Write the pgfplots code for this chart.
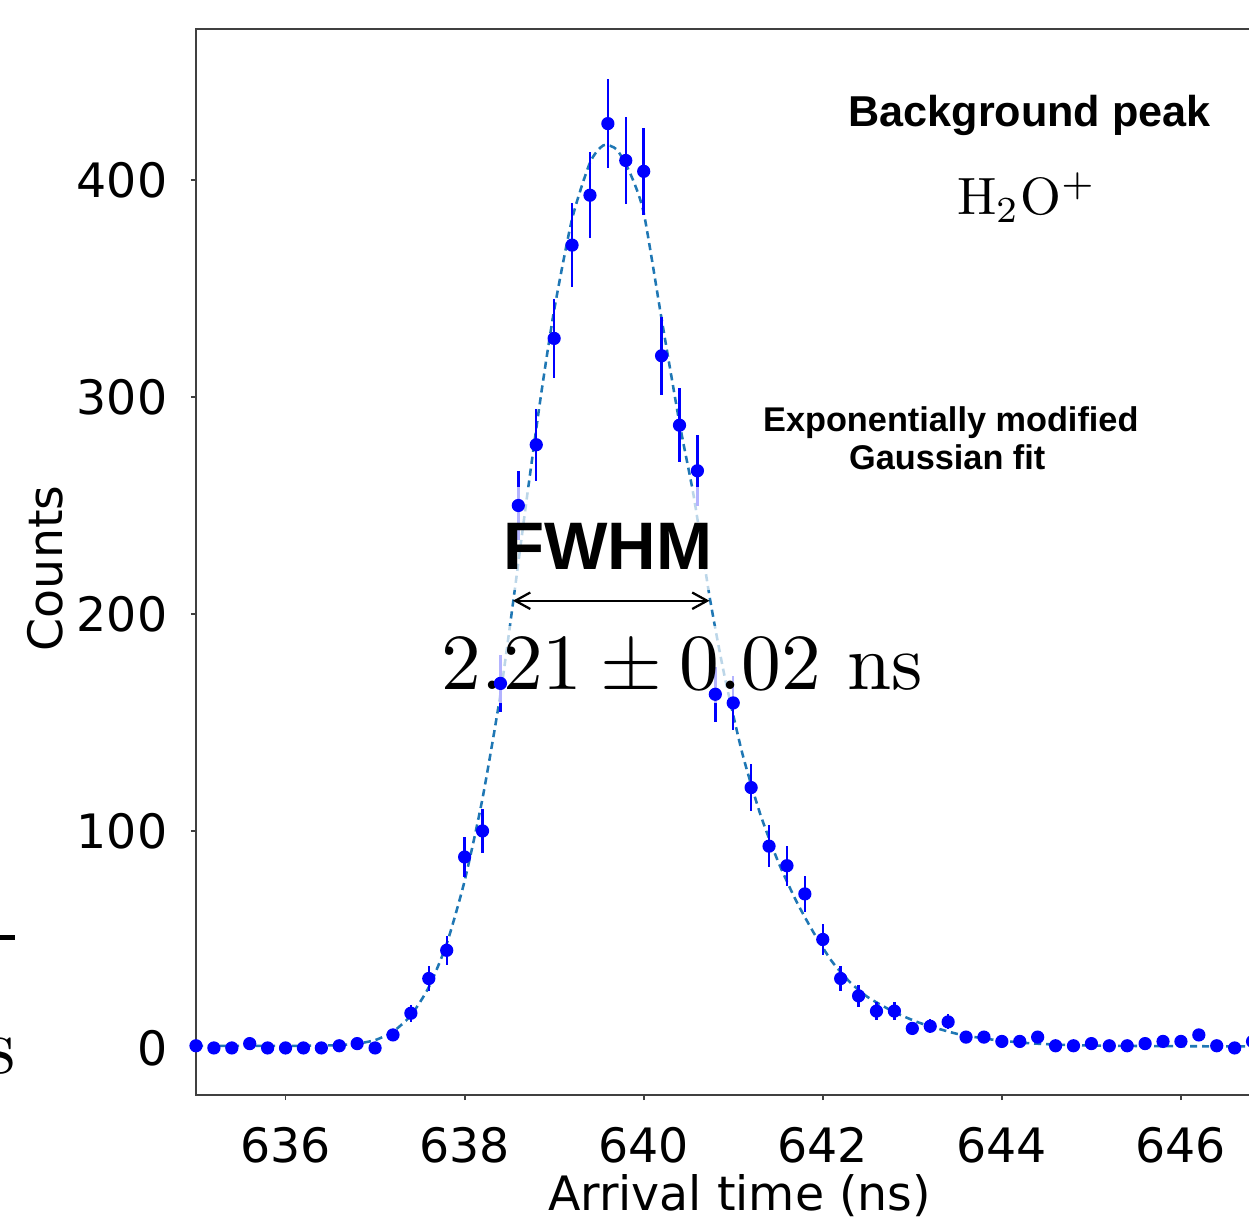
\documentclass[border=0pt]{standalone}
\usepackage{fontspec}
\usepackage{graphicx}
\usepackage{pgfplots}
\pgfplotsset{compat=1.18}
\usepackage{pgfplotstable}
\usetikzlibrary{arrows.meta}
\newfontfamily\dejavu{DejaVu Sans}
\newfontfamily\arial{Liberation Sans}
\definecolor{fitblue}{HTML}{1F77B4}

\pgfplotstableread{
x y e
635.0 1 1
635.2 0 0
635.4 0 0
635.6 2 1.41
635.8 0 0
636.0 0 0
636.2 0 0
636.4 0 0
636.6 1 1
636.8 2 1.41
637.0 0 0
637.2 6 2.45
637.4 16 4
637.6 32 5.66
637.8 45 6.71
638.0 88 9.38
638.2 100 10
638.4 168 12.96
638.6 250 15.81
638.8 278 16.67
639.0 327 18.08
639.2 370 19.24
639.4 393 19.82
639.6 426 20.64
639.8 409 20.22
640.0 404 20.10
640.2 319 17.86
640.4 287 16.94
640.6 266 16.31
640.8 163 12.77
641.0 159 12.61
641.2 120 10.95
641.4 93 9.64
641.6 84 9.17
641.8 71 8.43
642.0 50 7.07
642.2 32 5.66
642.4 24 4.90
642.6 17 4.12
642.8 17 4.12
643.0 9 3
643.2 10 3.16
643.4 12 3.46
643.6 5 2.24
643.8 5 2.24
644.0 3 1.73
644.2 3 1.73
644.4 5 2.24
644.6 1 1
644.8 1 1
645.0 2 1.41
645.2 1 1
645.4 1 1
645.6 2 1.41
645.8 3 1.73
646.0 3 1.73
646.2 6 2.45
646.4 1 1
646.6 0 0
646.8 3 1.73
}\datatable

\pgfplotstableread{
x y
635.0 1.0
635.6 1.0
636.2 1.0
636.6 1.3
636.8 2.0
637.0 3.6
637.2 7.5
637.4 15
637.6 28
637.8 48
638.0 77
638.2 115
638.4 163
638.55 208
638.7 255
638.85 300
639.0 340
639.2 382
639.4 408
639.55 416
639.7 414
639.85 403
640.0 385
640.2 336
640.4 288
640.56 254
640.74 207
640.9 172
641.1 136
641.3 108
641.5 86
641.7 68
641.9 53
642.1 40
642.3 30.5
642.5 23.5
642.8 16.5
643.1 11.3
643.5 6.5
643.9 3.8
644.3 2.2
644.7 1.4
645.2 1.0
646.0 0.8
647.2 0.7
}\fittable

\begin{document}
\begin{tikzpicture}
\begin{axis}[
  name=ax,
  scale only axis,
  width=362.33pt, height=355.33pt,
  xmin=635, xmax=647.14,
  ymin=-21.7, ymax=469.6,
  xtick={636,638,640,642,644,646},
  ytick={0,100,200,300,400},
  tick align=outside,
  tick pos=left,
  major tick length=1.7pt,
  axis line style={black!75, line width=0.6pt},
  tick style={black!75, line width=0.6pt},
  ticklabel style={font=\fontsize{15.8}{18}\selectfont\dejavu},
  /pgf/number format/assume math mode=true,
  /pgf/number format/1000 sep={},
  xticklabel style={anchor=north, inner sep=0pt, yshift=-9pt},
  yticklabel style={anchor=east, inner sep=0pt, xshift=-7.7pt},
  xlabel={Arrival time (ns)},
  ylabel={Counts},
  xlabel style={font=\fontsize{15.8}{18}\selectfont\dejavu, at={(axis description cs:0.5,0)}, anchor=base, yshift=-38.57pt, inner sep=0pt},
  ylabel style={font=\fontsize{15.8}{18}\selectfont\dejavu, at={(axis description cs:0,0.494)}, anchor=center, yshift=50.33pt, inner sep=0pt},
]
\addplot[fitblue, line width=0.85pt, dash pattern=on 2.4pt off 1.6pt, smooth, tension=0.4] table[x=x, y=y] {\fittable};
\addplot[only marks, mark=*, mark size=2.0pt, color=blue, mark options={draw=blue, fill=blue},
  error bars/.cd, y dir=both, y explicit, error mark=none,
  error bar style={line width=0.8pt, blue}]
  table[x=x, y=y, y error=e] {\datatable};
% semi-transparent white boxes behind the text
\fill[white, opacity=0.7] (axis cs:638.285,211.1) rectangle (axis cs:640.944,258.5);
\fill[white, opacity=0.7] (axis cs:637.64,159.0) rectangle (axis cs:643.2,194.5);
\node[anchor=base, inner sep=0pt, font=\fontsize{14.4}{17}\selectfont\arial\bfseries] at (axis cs:644.31,424.6) {Background peak};
\node[anchor=base, inner sep=0pt] at (axis cs:644.28,383.9) {\scalebox{1.75}{$\mathrm{H_2O^+}$}};
\node[anchor=base, inner sep=0pt, font=\fontsize{11.43}{14}\selectfont\arial\bfseries] at (axis cs:643.43,284.0) {Exponentially modified};
\node[anchor=base, inner sep=0pt, font=\fontsize{11.43}{14}\selectfont\arial\bfseries] at (axis cs:643.39,266.4) {Gaussian fit};
\node[anchor=base, inner sep=0pt, font=\fontsize{22.4}{26}\selectfont\arial\bfseries] at (axis cs:639.60,220.6) {FWHM};
\node[anchor=base, inner sep=0pt] at (axis cs:640.43,165.3) {\scalebox{2.65}{$2.21 \pm 0.02\ \mathrm{ns}$}};
\draw[black, line width=0.75pt, {Straight Barb[length=5pt, width=5.5pt]}-{Straight Barb[length=5pt, width=5.5pt]}] (axis cs:638.54,206.1) -- (axis cs:640.735,206.1);
\end{axis}
% fragments of the neighbouring panel at the left edge
\node[anchor=base east, inner sep=0pt] at ([shift={(-60pt,7.33pt)}]ax.south west) {\scalebox{2.65}{s}};
\fill[black] ([shift={(-68pt,51.67pt)}]ax.south west) rectangle ([shift={(-60.33pt,53.33pt)}]ax.south west);
\pgfresetboundingbox
\path[use as bounding box] ([shift={(-65.33pt,-40.33pt)}]ax.south west) rectangle ([shift={(351pt,365pt)}]ax.south west);
\end{tikzpicture}
\end{document}
